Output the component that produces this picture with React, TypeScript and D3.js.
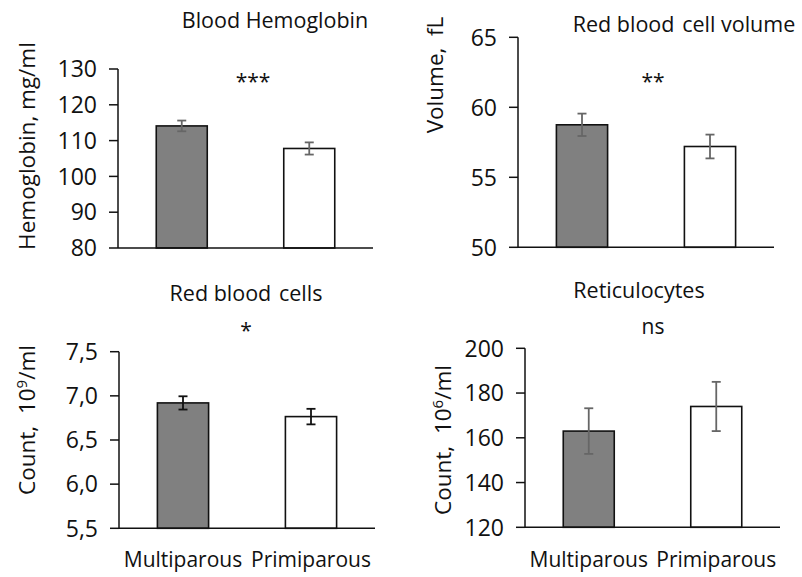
import React from "react";
import * as d3 from "d3";

const groups = ["Multiparous", "Primiparous"];

const hemoglobinMean = [114.1, 107.8];
const hemoglobinErr = [1.5, 1.7];
const hemoglobinTicks = [80, 90, 100, 110, 120, 130];

const volumeMean = [58.75, 57.2];
const volumeErr = [0.8, 0.85];
const volumeTicks = [50, 55, 60, 65];

const rbcMean = [6.92, 6.765];
const rbcErr = [0.075, 0.088];
const rbcTicks = [5.5, 6.0, 6.5, 7.0, 7.5];

const reticMean = [163, 174];
const reticErr = [10.2, 11];
const reticTicks = [120, 140, 160, 180, 200];

const titles = ["Blood Hemoglobin", "Red blood\u200a cell volume", "Red blood\u200a cells", "Reticulocytes"];
const significance = ["***", "**", "*", "ns"];

const FONT = "'Open Sans', 'Liberation Sans', sans-serif";
const barFills = ["#808080", "#ffffff"];

type PanelProps = {
  x0: number; x1: number; yTop: number; yBot: number;
  ticks: number[]; means: number[]; errs: number[];
  fmt: (v: number) => string;
  title: string; titleX: number; titleY: number;
  sig: string; sigX: number; sigY: number;
  yTitle: React.ReactNode; yTitleX: number; yTitleY: number;
  errColor: string; showX: boolean;
};

function Panel(p: PanelProps) {
  const y = d3.scaleLinear().domain([p.ticks[0], p.ticks[p.ticks.length - 1]]).range([p.yBot, p.yTop]);
  const x = d3.scaleBand<string>().domain(groups).range([p.x0, p.x1]).paddingInner(0.6).paddingOuter(0.3);
  const bw = x.bandwidth();
  return (
    <g>
      {groups.map((g, i) => {
        const cx = (x(g) as number) + bw / 2;
        return (
          <g key={g}>
            <rect x={x(g)} y={y(p.means[i])} width={bw} height={p.yBot - y(p.means[i])}
              fill={barFills[i]} stroke="#111" strokeWidth={1.6} />
            <line x1={cx} x2={cx} y1={y(p.means[i] + p.errs[i])} y2={y(p.means[i] - p.errs[i])} stroke={p.errColor} strokeWidth={1.8} />
            <line x1={cx - 4.5} x2={cx + 4.5} y1={y(p.means[i] + p.errs[i])} y2={y(p.means[i] + p.errs[i])} stroke={p.errColor} strokeWidth={1.8} />
            <line x1={cx - 4.5} x2={cx + 4.5} y1={y(p.means[i] - p.errs[i])} y2={y(p.means[i] - p.errs[i])} stroke={p.errColor} strokeWidth={1.8} />
            {p.showX && (
              <text x={cx} y={567} textAnchor="middle" fontSize={21} fontFamily={FONT} fill="#111">{g}</text>
            )}
          </g>
        );
      })}
      <line x1={p.x0} x2={p.x0} y1={p.yTop} y2={p.yBot} stroke="#111" strokeWidth={1.5} />
      <line x1={p.x0} x2={p.x1} y1={p.yBot} y2={p.yBot} stroke="#111" strokeWidth={1.5} />
      {p.ticks.map((t) => (
        <g key={t}>
          <line x1={p.x0 - 9} x2={p.x0} y1={y(t)} y2={y(t)} stroke="#111" strokeWidth={1.5} />
          <text x={p.x0 - 21} y={y(t)} dy="0.36em" textAnchor="end" fontSize={23} fontFamily={FONT} fill="#111">{p.fmt(t)}</text>
        </g>
      ))}
      <text x={p.titleX} y={p.titleY} textAnchor="middle" fontSize={21.5} fontFamily={FONT} fill="#111">{p.title}</text>
      <text x={p.sigX} y={p.sigY} textAnchor="middle" fontSize={21} fontFamily={FONT} fill="#111">{p.sig}</text>
      <text transform={`translate(${p.yTitleX},${p.yTitleY}) rotate(-90)`} textAnchor="middle" dy="0.35em" fontSize={22.5} fontFamily={FONT} fill="#111">{p.yTitle}</text>
    </g>
  );
}

export default function App() {
  const intFmt = (v: number) => d3.format("d")(v);
  const commaFmt = (v: number) => d3.format(".1f")(v).replace(".", ",");
  return (
    <svg width={802} height={577} style={{ position: "absolute", left: 0, top: 0, background: "#fff" }}>
      <rect width={802} height={577} fill="#fff" />
      <Panel x0={118} x1={373} yTop={69} yBot={248} ticks={hemoglobinTicks} means={hemoglobinMean} errs={hemoglobinErr}
        fmt={intFmt} title={titles[0]} titleX={275} titleY={28} sig={significance[0]} sigX={253} sigY={89}
        yTitle="Hemoglobin, mg/ml" yTitleX={27} yTitleY={146} errColor="#666" showX={false} />
      <Panel x0={518} x1={774} yTop={37.3} yBot={247.3} ticks={volumeTicks} means={volumeMean} errs={volumeErr}
        fmt={intFmt} title={titles[1]} titleX={684} titleY={32} sig={significance[1]} sigX={653} sigY={89}
        yTitle={"Volume,\u00a0 fL"} yTitleX={435} yTitleY={75} errColor="#666" showX={false} />
      <Panel x0={119} x1={375} yTop={351.7} yBot={528.3} ticks={rbcTicks} means={rbcMean} errs={rbcErr}
        fmt={commaFmt} title={titles[2]} titleX={246} titleY={301} sig={significance[2]} sigX={246} sigY={338}
        yTitle={<><tspan>{"Count,\u00a0 10"}</tspan><tspan dy="-8" fontSize={15}>9</tspan><tspan dy="8">/ml</tspan></>}
        yTitleX={27} yTitleY={420} errColor="#111" showX={true} />
      <Panel x0={525} x1={780} yTop={348.3} yBot={527.3} ticks={reticTicks} means={reticMean} errs={reticErr}
        fmt={intFmt} title={titles[3]} titleX={639} titleY={298} sig={significance[3]} sigX={653} sigY={334}
        yTitle={<><tspan>{"Count,\u00a0 10"}</tspan><tspan dy="-8" fontSize={15}>6</tspan><tspan dy="8">/ml</tspan></>}
        yTitleX={443} yTitleY={440} errColor="#666" showX={true} />
    </svg>
  );
}
